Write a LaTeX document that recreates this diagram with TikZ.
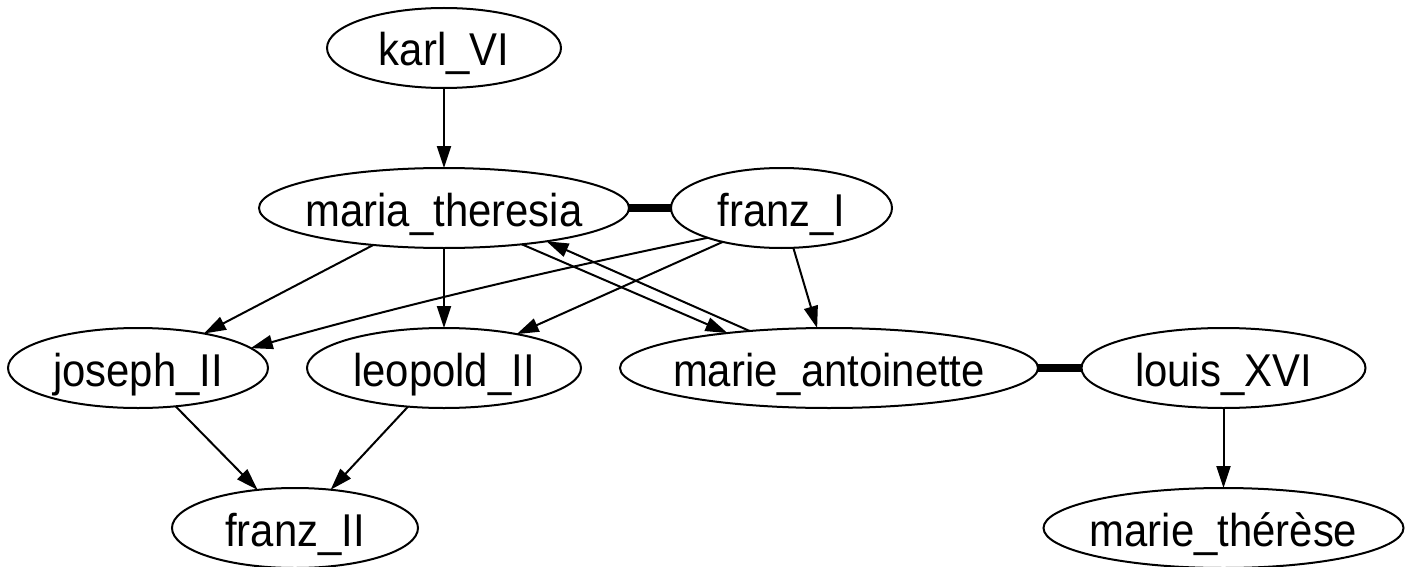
\documentclass[tikz,border=0pt]{standalone}
\usepackage{fontspec}
\setmainfont{Liberation Sans}[FakeStretch=0.91]
\usetikzlibrary{arrows.meta,shapes.geometric}

\tikzset{
  person/.style={draw, ellipse, line width=2pt, inner sep=0pt, outer sep=0pt,
    minimum height=80pt, text height=36pt, text depth=0pt,
    font=\fontsize{46pt}{50pt}\selectfont},
  descent/.style={line width=2pt, -{Triangle[length=22pt,width=14pt]}},
  marriage/.style={line width=8pt},
}
% zero-width label so the ellipse keeps its given size
\newcommand\lbl[1]{\makebox[0pt]{#1}}

\begin{document}
\begin{tikzpicture}[x=1pt, y=-1pt]
  \useasboundingbox (0,0) rectangle (1410,567);
  \fill[white] (0,0) rectangle (1410,567);

  % people
  \node[person, minimum width=234pt] (karl)  at (444,48)    {\lbl{karl\_VI}};
  \node[person, minimum width=370pt] (maria) at (444,208)   {\lbl{maria\_theresia}};
  \node[person, minimum width=221pt] (franzI) at (781.5,208) {\lbl{franz\_I}};
  \node[person, minimum width=260pt] (joseph) at (138,368)  {\lbl{joseph\_II}};
  \node[person, minimum width=274pt] (leopold) at (444,368) {\lbl{leopold\_II}};
  \node[person, minimum width=418pt] (antoinette) at (829,368) {\lbl{marie\_antoinette}};
  \node[person, minimum width=284pt] (louis) at (1223.5,368) {\lbl{louis\_XVI}};
  \node[person, minimum width=246pt] (franzII) at (295,528) {\lbl{franz\_II}};
  \node[person, minimum width=360pt] (therese) at (1223.5,528) {\lbl{marie\_thérèse}};

  % marriages
  \draw[marriage] (maria.east) -- (franzI.west);
  \draw[marriage] (antoinette.east) -- (louis.west);

  % descent
  \draw[descent] (karl) -- (maria);
  \draw[descent] (maria) -- (joseph);
  \draw[descent] (maria) -- (leopold);
  \draw[descent] (maria.-25.3) -- (antoinette.161.7);
  \draw[descent] (antoinette.155.5) -- (maria.-18.1);
  \draw[descent] (franzI.202.8) .. controls (590,262) and (420,300) .. (joseph.10.8);
  \draw[descent] (franzI.210.9) -- (leopold.25.3);
  \draw[descent] (franzI) -- (antoinette);
  \draw[descent] (joseph) -- (franzII);
  \draw[descent] (leopold) -- (franzII);
  \draw[descent] (louis) -- (therese);
\end{tikzpicture}
\end{document}
